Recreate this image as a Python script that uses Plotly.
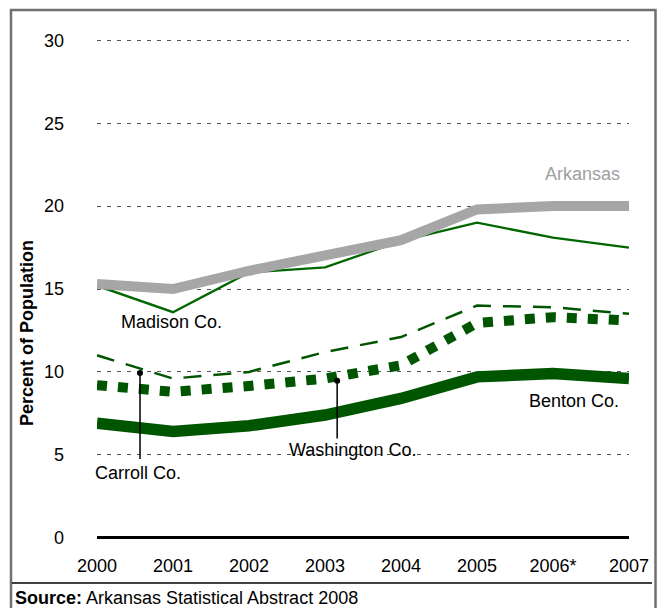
import plotly.graph_objects as go

years = ["2000", "2001", "2002", "2003", "2004", "2005", "2006*", "2007"]
arkansas = [15.3, 15.0, 16.1, 17.0, 17.95, 19.8, 20.0, 20.0]
madison = [15.2, 13.6, 16.0, 16.3, 17.9, 19.0, 18.1, 17.5]
carroll = [11.0, 9.6, 10.0, 11.2, 12.1, 14.0, 13.9, 13.5]
washington = [9.2, 8.8, 9.15, 9.6, 10.4, 12.95, 13.3, 13.1]
benton = [6.9, 6.4, 6.75, 7.4, 8.4, 9.7, 9.9, 9.6]
y_ticks = [0, 5, 10, 15, 20, 25, 30]

W, H = 662, 608
L, R, T, B = 97, 33, 32, 62
PW, PH = W - L - R, H - T - B
FONT = "Liberation Sans, Arial, Helvetica, sans-serif"
GREEN = "#005500"

def xp(px):
    return (px - L) / PW

def yp(py):
    return (H - B - py) / PH

xi = list(range(len(years)))
fig = go.Figure()
fig.add_trace(go.Scatter(x=xi, y=benton, mode="lines",
                         line=dict(color=GREEN, width=11.5)))
fig.add_trace(go.Scatter(x=xi, y=washington, mode="lines",
                         line=dict(color=GREEN, width=10, dash="10px,11px")))
fig.add_trace(go.Scatter(x=xi, y=carroll, mode="lines",
                         line=dict(color=GREEN, width=2.5, dash="18px,12px")))
fig.add_trace(go.Scatter(x=xi, y=madison, mode="lines",
                         line=dict(color="#006600", width=2.3)))
fig.add_trace(go.Scatter(x=xi, y=arkansas, mode="lines",
                         line=dict(color="#A6A6A6", width=10)))

annotations = []
def label(text, cx, cy, color="black"):
    annotations.append(dict(text=text, x=xp(cx), y=yp(cy), xref="paper", yref="paper",
                            showarrow=False, xanchor="center", yanchor="middle",
                            font=dict(family=FONT, size=18, color=color)))

label("Arkansas", 582, 174, "#A0A0A0")
label("Madison Co.", 171, 322)
label("Carroll Co.", 138, 473)
label("Washington Co.", 352, 450)
label("Benton Co.", 574, 401)

# leader lines with dot heads
for (hx, hy, ty) in [(0.566, 9.94, 4.65), (3.16, 9.46, 5.9)]:
    annotations.append(dict(text="", x=hx, y=hy, ax=hx, ay=ty, xref="x", yref="y",
                            axref="x", ayref="y", showarrow=True, arrowhead=6,
                            arrowsize=1, arrowwidth=1.5, arrowcolor="black",
                            font=dict(size=1)))

annotations.append(dict(text="<b>Percent of Population</b>", x=xp(27), y=yp(333),
                        xref="paper", yref="paper", showarrow=False, textangle=-90,
                        xanchor="center", yanchor="middle",
                        font=dict(family=FONT, size=18, color="black")))
annotations.append(dict(text="<b>Source:</b> Arkansas Statistical Abstract 2008",
                        x=xp(13), y=yp(598), xref="paper", yref="paper", showarrow=False,
                        xanchor="left", yanchor="middle",
                        font=dict(family=FONT, size=18, color="black")))

shapes = [
    dict(type="rect", xref="paper", yref="paper", x0=xp(11), x1=xp(655.5),
         y0=yp(10), y1=yp(620), line=dict(color="#707070", width=2.5)),
    dict(type="line", xref="paper", yref="paper", x0=xp(12), x1=xp(652),
         y0=yp(583), y1=yp(583), line=dict(color="black", width=1.5)),
]

fig.update_layout(
    width=W, height=H,
    margin=dict(l=L, r=R, t=T, b=B),
    paper_bgcolor="white", plot_bgcolor="white",
    showlegend=False,
    font=dict(family=FONT, size=18, color="black"),
    annotations=annotations,
    shapes=shapes,
    xaxis=dict(range=[0, 7], tickvals=xi, ticktext=years, showgrid=False,
               zeroline=False, showline=False, ticks="", ticklabelstandoff=7,
               tickfont=dict(family=FONT, size=18, color="black")),
    yaxis=dict(range=[-0.5, 30.5], tickvals=y_ticks, showgrid=True,
               gridcolor="#555555", gridwidth=1, griddash="4px,6px",
               zeroline=True, zerolinecolor="black", zerolinewidth=3,
               showline=False, ticks="", ticklabelstandoff=32,
               tickfont=dict(family=FONT, size=18, color="black")),
)

fig.write_html("out.html", config={"displayModeBar": False},
               post_script="document.body.style.margin='0';document.body.style.overflow='hidden';")
